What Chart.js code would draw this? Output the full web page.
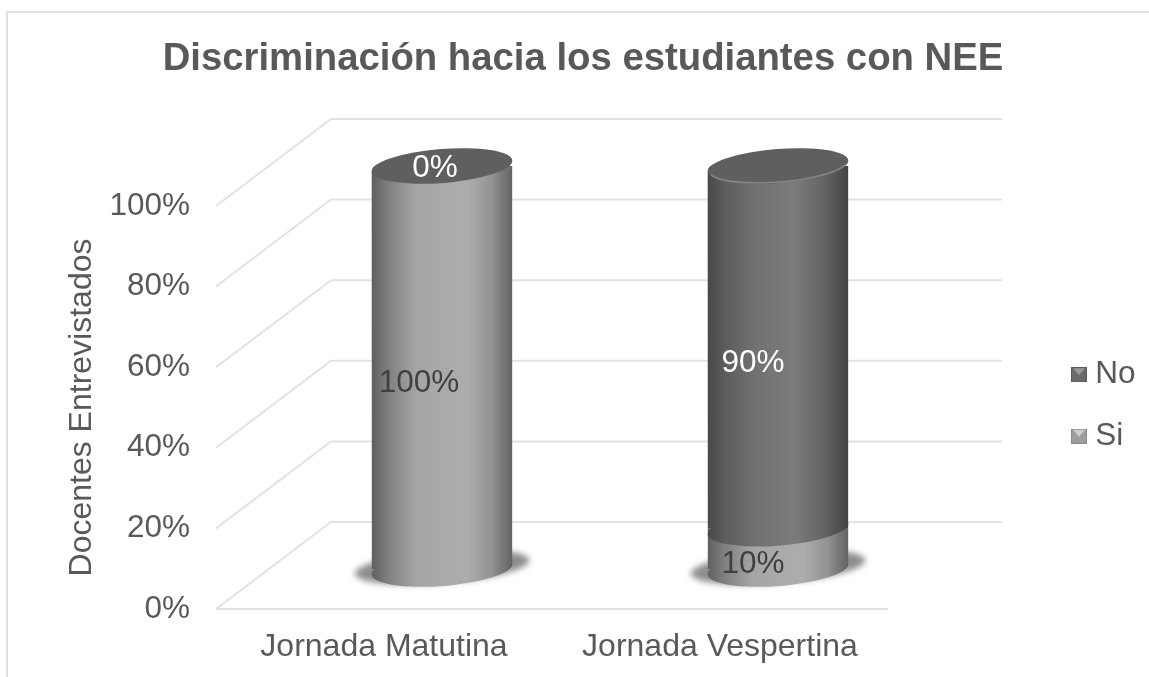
<!DOCTYPE html>
<html><head><meta charset="utf-8">
<style>html,body{margin:0;padding:0;background:#fff}#w{position:relative;width:1149px;height:677px}canvas{display:block}</style>
<script src="https://cdn.jsdelivr.net/npm/chart.js@4/dist/chart.umd.min.js"></script>
</head><body><div id="w"><canvas id="c" width="1149" height="677"></canvas></div>
<script>
const categories = ['Jornada Matutina', 'Jornada Vespertina'];
const siValues = [100, 10];
const noValues = [0, 90];
const seriesNames = ['Si', 'No'];
const chartTitle = 'Discriminación hacia los estudiantes con NEE';
const yAxisTitle = 'Docentes Entrevistados';

const FONT = '"Liberation Sans", Arial, sans-serif';
const TEXT = '#595959';
const DEPTH = {x: 115, y: -87};
const BAR = {x: 58, y: -40, rx: 70.5, ry: 17, rot: -4.5 * Math.PI / 180};
const BAR_PCT = 141 / 335.5;
const STOPS = {
  Si: [[0,'#5e5e5e'],[.12,'#808080'],[.32,'#a5a5a5'],[.68,'#adadad'],[.85,'#929292'],[1,'#626262']],
  No: [[0,'#484848'],[.12,'#5c5c5c'],[.35,'#727272'],[.62,'#7c7c7c'],[.85,'#606060'],[1,'#434343']]
};
const LABEL_NUDGE = {Si: [{x:-23,y:16},{x:-25,y:15}], No: [{x:-7,y:2},{x:-25,y:16}]};

function barGradient(chart, i, name) {
  const sc = chart.scales.x, c = chart.ctx;
  if (!sc || !sc.width || i === undefined) return STOPS[name][2][1];
  const w = sc.width / categories.length * BAR_PCT, m = sc.getPixelForValue(i);
  const g = c.createLinearGradient(m - w / 2, 0, m + w / 2, 0);
  STOPS[name].forEach(s => g.addColorStop(s[0], s[1]));
  return g;
}
function marker(base, light, dark) {
  const k = document.createElement('canvas'); k.width = 16; k.height = 15;
  const c = k.getContext('2d');
  c.fillStyle = base; c.fillRect(0, 0, 16, 15);
  c.fillStyle = light; c.beginPath(); c.moveTo(2,1); c.lineTo(14,1); c.lineTo(8,8); c.closePath(); c.fill();
  c.strokeStyle = dark; c.lineWidth = 1; c.strokeRect(.5,.5,15,14);
  return k;
}
const markers = {No: marker('#6a6a6a','#9a9a9a','#5a5a5a'), Si: marker('#9e9e9e','#cfcfcf','#8c8c8c')};

const scene = {
  id: 'scene',
  afterLayout(chart) {
    const l = chart.legend;
    l.left = 1048.5; l.right = 1149; l.width = 100.5; l.top += 67; l.bottom += 67;
    const t = chart.titleBlock;
    t.left = 0; t.right = 1166; t.width = 1166;
  },
  beforeDraw(chart) {
    const c = chart.ctx;
    c.save(); c.strokeStyle = '#e0e0e0'; c.lineWidth = 2;
    c.beginPath(); c.moveTo(7, 677); c.lineTo(7, 12); c.lineTo(1149, 12); c.stroke();
    c.restore();
  },
  beforeDatasetsDraw(chart) {
    const c = chart.ctx, a = chart.chartArea, ys = chart.scales.y;
    c.save(); c.strokeStyle = '#e2e2e2'; c.lineWidth = 2;
    ys.ticks.forEach(t => {
      const y = ys.getPixelForValue(t.value);
      c.beginPath(); c.moveTo(a.left, y); c.lineTo(a.left + DEPTH.x, y + DEPTH.y);
      c.lineTo(1002, y + DEPTH.y); c.stroke();
    });
    const y0 = ys.getPixelForValue(0);
    c.beginPath(); c.moveTo(a.left, y0); c.lineTo(a.right, y0); c.stroke();
    c.restore();

    const si = chart.getDatasetMeta(0).data, no = chart.getDatasetMeta(1).data;
    c.save(); c.translate(BAR.x, BAR.y);
    si.forEach(el => {
      c.save(); c.filter = 'blur(3px)'; c.fillStyle = 'rgba(95,95,95,.72)';
      c.beginPath(); c.ellipse(el.x, el.base - 2, BAR.rx + 17, BAR.ry - 1, BAR.rot, 0, Math.PI * 2); c.fill(); c.restore();
    });
    c.beginPath();
    si.forEach((el, i) => {
      const n = no[i];
      c.moveTo(el.x - BAR.rx, n.y + 6);
      c.ellipse(n.x, n.y, BAR.rx, BAR.ry, BAR.rot, Math.PI, Math.PI * 2);
      c.ellipse(el.x, el.base, BAR.rx, BAR.ry, BAR.rot, 0, Math.PI);
      c.closePath();
    });
    c.clip();
  },
  afterDatasetsDraw(chart) {
    const c = chart.ctx;
    c.restore();
    c.save(); c.translate(BAR.x, BAR.y);
    seriesNames.forEach((name, d) => {
      chart.getDatasetMeta(d).data.forEach((el, i) => {
        if (el.base - el.y <= 0) return;
        c.fillStyle = barGradient(chart, i, name);
        c.beginPath(); c.ellipse(el.x, el.base, BAR.rx, BAR.ry, BAR.rot, 0, Math.PI * 2); c.closePath(); c.fill();
      });
    });
    chart.getDatasetMeta(1).data.forEach((el, i) => {
      c.fillStyle = '#5f5f5f';
      c.beginPath(); c.ellipse(el.x, el.y, BAR.rx, BAR.ry, BAR.rot, 0, Math.PI * 2); c.fill();
      if (el.base - el.y > 0) {
        c.strokeStyle = 'rgba(165,165,165,.55)'; c.lineWidth = 1.5;
        c.beginPath(); c.ellipse(el.x, el.y, BAR.rx - 1, BAR.ry - 1, BAR.rot, .25, Math.PI - .25); c.stroke();
      }
    });
    c.font = '31.5px ' + FONT; c.textAlign = 'center'; c.textBaseline = 'middle';
    seriesNames.forEach((name, d) => {
      const vals = chart.data.datasets[d].data;
      chart.getDatasetMeta(d).data.forEach((el, i) => {
        const nudge = LABEL_NUDGE[name][i];
        c.fillStyle = name === 'No' ? '#ffffff' : '#404040';
        c.fillText(vals[i] + '%', el.x + nudge.x, (el.y + el.base) / 2 + nudge.y);
      });
    });
    c.restore();
  }
};

new Chart(document.getElementById('c'), {
  type: 'bar',
  plugins: [scene],
  data: {
    labels: categories,
    datasets: [
      {label: seriesNames[0], data: siValues, clip: false, backgroundColor: x => barGradient(x.chart, x.dataIndex, 'Si'), barPercentage: BAR_PCT, categoryPercentage: 1},
      {label: seriesNames[1], data: noValues, clip: false, backgroundColor: x => barGradient(x.chart, x.dataIndex, 'No'), barPercentage: BAR_PCT, categoryPercentage: 1}
    ]
  },
  options: {
    responsive: false,
    animation: false,
    events: [],
    layout: {padding: {left: 17, right: 164, top: 0, bottom: 0}},
    scales: {
      x: {
        stacked: true,
        grid: {display: false, drawTicks: false},
        border: {display: false},
        ticks: {color: TEXT, font: {family: FONT, size: 32}, padding: 19, maxRotation: 0, autoSkip: false},
        afterFit(s) { s.height = 68; }
      },
      y: {
        stacked: true, min: 0, max: 100,
        grid: {display: false, drawTicks: false},
        border: {display: false},
        ticks: {color: TEXT, font: {family: FONT, size: 31.5}, stepSize: 20, padding: 26, callback: v => v + '%'},
        title: {display: true, text: yAxisTitle, color: TEXT, font: {family: FONT, size: 32}, padding: {top: 46, bottom: 0}},
        afterFit(s) { s.width = 199; }
      }
    },
    plugins: {
      tooltip: {enabled: false},
      title: {display: true, text: chartTitle, color: TEXT, font: {family: FONT, size: 38.3, weight: 'bold'}, padding: {top: 36, bottom: 124}},
      legend: {
        position: 'right',
        labels: {
          color: TEXT, font: {family: FONT, size: 31.5}, padding: 30, boxHeight: 15,
          usePointStyle: true, pointStyleWidth: 1,
          generateLabels: () => ['No', 'Si'].map(n => ({
            text: n, pointStyle: markers[n], fontColor: TEXT, lineWidth: 0, strokeStyle: 'transparent', fillStyle: 'transparent', datasetIndex: seriesNames.indexOf(n)
          }))
        }
      }
    }
  }
});
</script></body></html>
